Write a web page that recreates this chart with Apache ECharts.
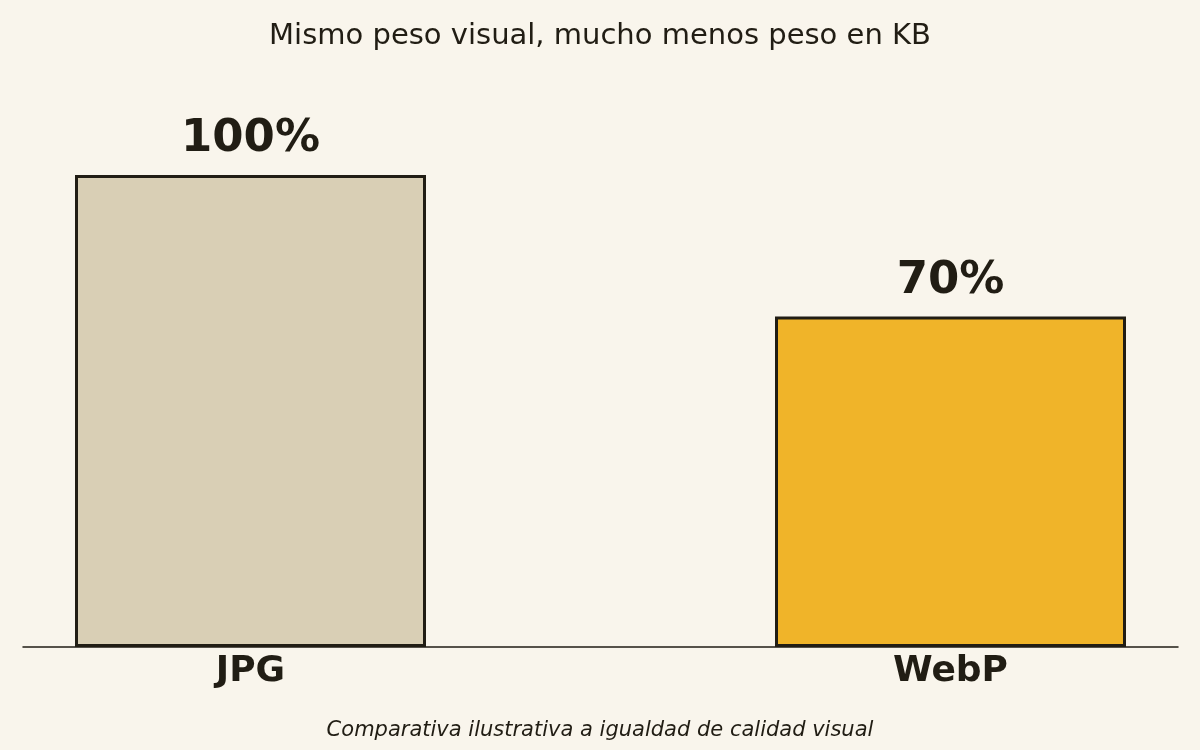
<!DOCTYPE html>
<html>
<head>
<meta charset="utf-8">
<script src="https://cdn.jsdelivr.net/npm/echarts@6/dist/echarts.min.js"></script>
<style>
  html, body { margin: 0; padding: 0; background: #f9f5ec; }
  #chart { width: 1200px; height: 750px; }
</style>
</head>
<body>
<div id="chart"></div>
<script>
// formatos comparados y su peso relativo
var categories = ['JPG', 'WebP'];
var values = [100, 70];
var barColors = ['#d9cfb5', '#f0b429'];

var ink = '#211d14';
var font = 'DejaVu Sans';

var chart = echarts.init(document.getElementById('chart'));

var seriesData = [];
for (var i = 0; i < values.length; i++) {
    seriesData.push({
        value: [i, values[i]],
        itemStyle: { color: barColors[i] }
    });
}

var option = {
    backgroundColor: '#f9f5ec',
    animation: false,
    title: [{
        text: 'Mismo peso visual, mucho menos peso en KB',
        left: 'center',
        top: 17,
        textStyle: { fontFamily: font, fontSize: 29, fontWeight: 'normal', color: ink }
    }, {
        text: 'Comparativa ilustrativa a igualdad de calidad visual',
        left: 'center',
        top: 715,
        textStyle: { fontFamily: font, fontSize: 21, fontStyle: 'italic', fontWeight: 'normal', color: ink }
    }],
    grid: { left: 23, right: 22, top: 83, bottom: 103 },
    xAxis: {
        type: 'value',
        min: -0.325,
        max: 1.325,
        splitLine: { show: false },
        axisLine: { show: true, onZero: false, lineStyle: { color: ink, width: 1.5 } },
        axisTick: { show: false },
        axisLabel: {
            customValues: [0, 1],
            formatter: function (v) { return categories[Math.round(v)]; },
            fontFamily: font,
            fontSize: 36,
            fontWeight: 'bold',
            color: ink,
            margin: 7
        }
    },
    yAxis: {
        type: 'value',
        min: 0,
        max: 119.5,
        show: false
    },
    series: [{
        type: 'bar',
        barWidth: 351,
        data: seriesData,
        itemStyle: { borderColor: ink, borderWidth: 3 },
        label: {
            show: true,
            position: 'top',
            distance: 13,
            formatter: function (p) { return p.value[1] + '%'; },
            fontFamily: font,
            fontSize: 45,
            fontWeight: 'bold',
            color: ink
        }
    }]
};

chart.setOption(option);
</script>
</body>
</html>
